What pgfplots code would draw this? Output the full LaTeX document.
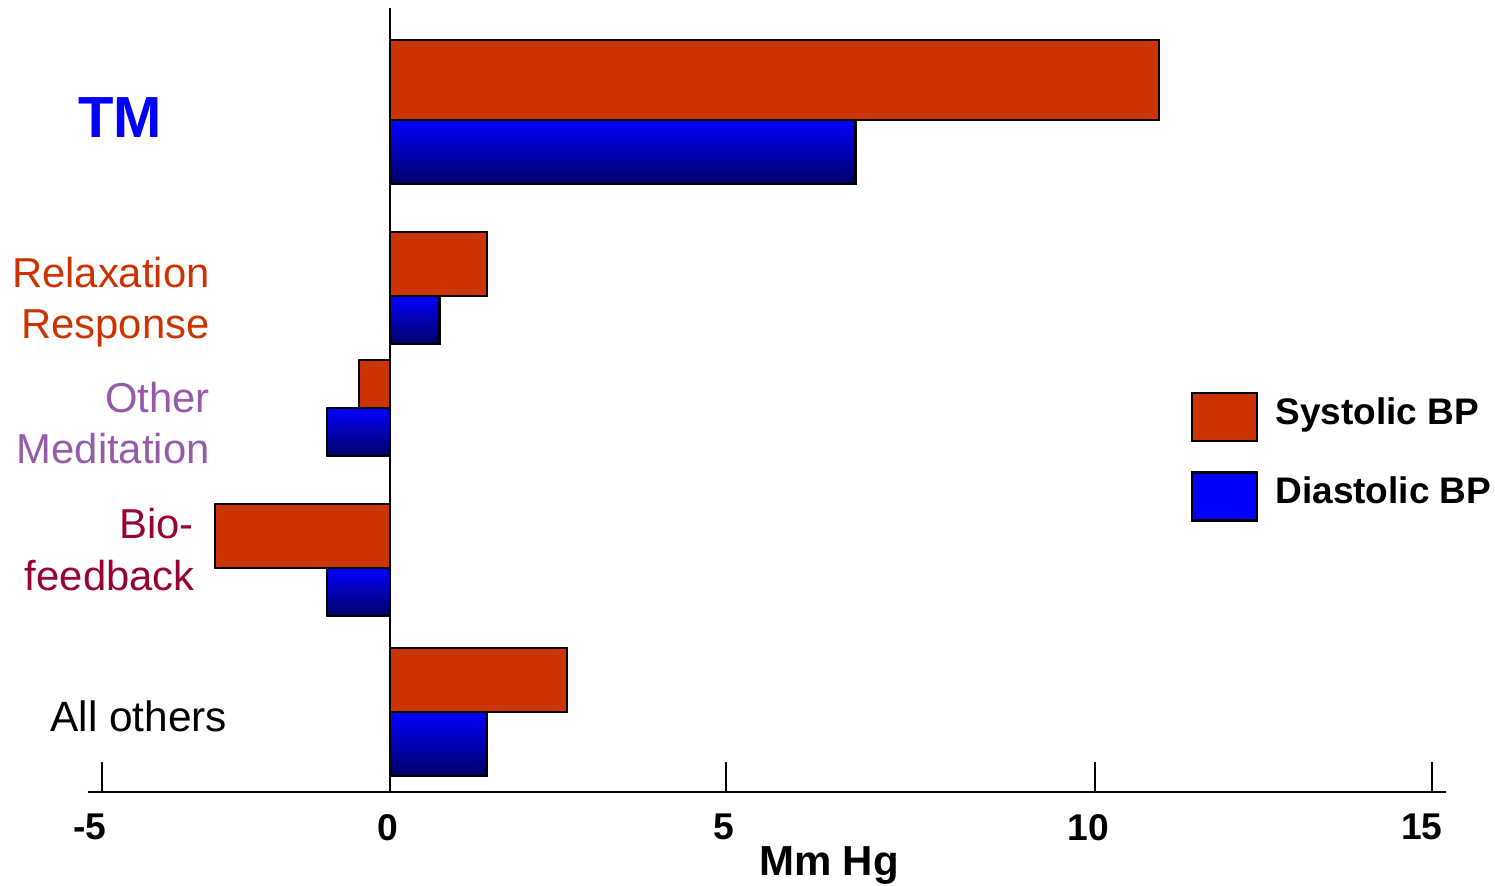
\documentclass[border=0pt]{standalone}
\usepackage{fontspec}
\setmainfont{Liberation Sans}
\usepackage{pgfplots}
\pgfplotsset{compat=1.18}
\definecolor{sys}{RGB}{204,51,0}
\definecolor{diatop}{RGB}{0,0,255}
\definecolor{diamid}{RGB}{0,0,215}
\definecolor{diabot}{RGB}{0,0,100}
\definecolor{othmed}{RGB}{150,90,170}
\definecolor{bio}{RGB}{153,0,51}
\begin{document}
\begin{tikzpicture}
\begin{axis}[
  scale only axis, width=679pt, height=392pt,
  xmin=-4.284, xmax=14.979, ymin=93, ymax=877,
  axis x line=bottom, axis y line=center,
  axis line style={-, line width=1pt, black},
  hide obscured x ticks=false,
  xtick={-4.085,0,4.766,10,14.78},
  xticklabels={},
  xtick align=inside,
  major tick length=15pt,
  every tick/.style={black, line width=0.75pt},
  ytick=\empty,
  extra x ticks={-4.255,-0.028,4.738,9.901,14.638},
  extra x tick labels={{-5},{0},{5},{10},{15}},
  extra x tick style={tick style={draw=none}},
  xticklabel style={font=\fontsize{18.6}{21}\selectfont\bfseries, yshift=-7.5pt},
  /pgf/number format/assume math mode=true,
  clip=false,
  legend cell align=left,
  legend style={at={(axis cs:11.362,493)}, anchor=north west, draw=none, fill=none,
    inner sep=0pt, outer sep=0pt, row sep=14.5pt, column sep=8.5pt,
    font=\fontsize{18.5}{21}\selectfont\bfseries, nodes={inner sep=0pt}},
  legend image code/.code={\draw[#1] (0pt,-14.5pt) rectangle (32.5pt,9.5pt);},
]
% TM
\addplot[xbar, bar width=80, bar shift=0pt, fill=sys, draw=black, line width=1.2pt, forget plot] coordinates {(10.91,805)};
\addplot[xbar, bar width=64, bar shift=0pt, draw=black, line width=1.2pt, top color=diatop, middle color=diamid, bottom color=diabot, forget plot] coordinates {(6.60,733)};
% Relaxation Response
\addplot[xbar, bar width=64, bar shift=0pt, fill=sys, draw=black, line width=1.2pt, forget plot] coordinates {(1.38,621)};
\addplot[xbar, bar width=48, bar shift=0pt, draw=black, line width=1.2pt, top color=diatop, middle color=diamid, bottom color=diabot, forget plot] coordinates {(0.70,565)};
% Other Meditation
\addplot[xbar, bar width=48, bar shift=0pt, fill=sys, draw=black, line width=1.2pt, forget plot] coordinates {(-0.44,501)};
\addplot[xbar, bar width=48, bar shift=0pt, draw=black, line width=1.2pt, top color=diatop, middle color=diamid, bottom color=diabot, forget plot] coordinates {(-0.89,453)};
% Biofeedback
\addplot[xbar, bar width=64, bar shift=0pt, fill=sys, draw=black, line width=1.2pt, forget plot] coordinates {(-2.48,349)};
\addplot[xbar, bar width=48, bar shift=0pt, draw=black, line width=1.2pt, top color=diatop, middle color=diamid, bottom color=diabot, forget plot] coordinates {(-0.89,293)};
% All others
\addplot[xbar, bar width=64, bar shift=0pt, fill=sys, draw=black, line width=1.2pt, forget plot] coordinates {(2.51,205)};
\addplot[xbar, bar width=64, bar shift=0pt, draw=black, line width=1.2pt, top color=diatop, middle color=diamid, bottom color=diabot, forget plot] coordinates {(1.38,141)};

\addlegendimage{fill=sys, draw=black, line width=1.2pt}
\addlegendentry{Systolic BP}
\addlegendimage{fill=diatop, draw=black, line width=1.2pt}
\addlegendentry{Diastolic BP}

% category labels
\node[anchor=center, inner sep=0pt, text=blue, font=\fontsize{29}{34}\selectfont\bfseries] at (axis cs:-3.830,767.5) {TM};
\node[anchor=base east, inner sep=0pt, text=sys, font=\fontsize{20.9}{25}\selectfont] at (axis cs:-2.553,598) {Relaxation};
\node[anchor=base east, inner sep=0pt, text=sys, font=\fontsize{20.9}{25}\selectfont] at (axis cs:-2.553,547) {Response};
\node[anchor=base east, inner sep=0pt, text=othmed, font=\fontsize{20.9}{25}\selectfont] at (axis cs:-2.553,473) {Other};
\node[anchor=base east, inner sep=0pt, text=othmed, font=\fontsize{20.9}{25}\selectfont] at (axis cs:-2.553,422) {Meditation};
\node[anchor=base east, inner sep=0pt, text=bio, font=\fontsize{20.9}{25}\selectfont] at (axis cs:-2.780,347) {Bio-};
\node[anchor=base east, inner sep=0pt, text=bio, font=\fontsize{20.9}{25}\selectfont] at (axis cs:-2.766,295) {feedback};
\node[anchor=base west, inner sep=0pt, text=black, font=\fontsize{21.2}{25}\selectfont] at (axis cs:-4.823,154) {All others};
% axis title
\node[anchor=base, inner sep=0pt, font=\fontsize{21}{25}\selectfont\bfseries] at (axis cs:6.227,10) {Mm Hg};

\coordinate (bbBL) at (axis cs:-5.532,0);
\coordinate (bbTR) at (axis cs:15.674,885);
\end{axis}
\pgfresetboundingbox
\path[use as bounding box] (bbBL) rectangle (bbTR);
\end{tikzpicture}
\end{document}
